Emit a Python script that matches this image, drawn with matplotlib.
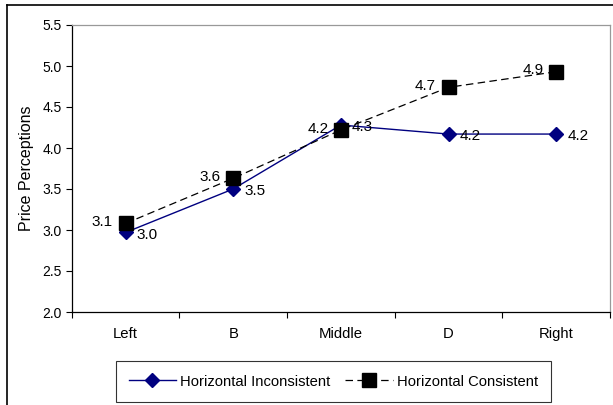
import numpy as np
import matplotlib
matplotlib.use('Agg')
import matplotlib.pyplot as plt
from matplotlib.lines import Line2D

plt.rcParams['font.family'] = ['Liberation Sans', 'DejaVu Sans']

# ── Data ──────────────────────────────────────────────────────────────────────
categories = ['Left', 'B', 'Middle', 'D', 'Right']
inconsistent = [2.97, 3.50, 4.28, 4.17, 4.17]
consistent = [3.08, 3.63, 4.22, 4.74, 4.93]
yticks = [2.0, 2.5, 3.0, 3.5, 4.0, 4.5, 5.0, 5.5]

col_inc = '#000080'
col_con = '#000000'

W, H = 613, 405
fig = plt.figure(figsize=(W / 100, H / 100), dpi=100, facecolor='white')
ax = fig.add_axes([71.7 / W, 1 - 312 / H, (610 - 71.7) / W, (312 - 25) / H])

x = np.arange(len(categories))
ax.plot(x, inconsistent, color=col_inc, lw=1.0, marker='D', ms=7.5,
        mfc=col_inc, mec=col_inc, zorder=3, label='Horizontal Inconsistent')
ax.plot(x, consistent, color=col_con, lw=0.9, ls=(0, (6, 3.5)), marker='s',
        ms=10, mfc=col_con, mec=col_con, zorder=4, label='Horizontal Consistent')

# value labels: inconsistent to the right, consistent to the left
for xi, v in zip(x, inconsistent):
    ax.annotate(f'{v:.1f}', (xi, v), xytext=(8, -1.5), textcoords='offset points',
                ha='left', va='center', fontsize=11, zorder=5)
for xi, v in zip(x, consistent):
    ax.annotate(f'{v:.1f}', (xi, v), xytext=(-9, 1), textcoords='offset points',
                ha='right', va='center', fontsize=11, zorder=5)

ax.set_xlim(-0.5, len(categories) - 0.5)
ax.set_ylim(2.0, 5.5)
ax.set_yticks(yticks)
ax.set_yticklabels([f'{v:.1f}' for v in yticks], fontsize=10)
ax.set_xticks(np.arange(len(categories) + 1) - 0.5)
ax.set_xticklabels([])
ax.set_xticks(x, minor=True)
ax.set_xticklabels(categories, minor=True, fontsize=10.7)
ax.tick_params(axis='x', which='minor', length=0, pad=11)
ax.tick_params(axis='both', which='major', direction='out', length=4,
               width=0.8, color='black', pad=3)
ax.set_ylabel('Price Perceptions', fontsize=11.5, labelpad=6)

for side in ['left', 'bottom']:
    ax.spines[side].set_color('black')
    ax.spines[side].set_linewidth(0.9)
for side in ['top', 'right']:
    ax.spines[side].set_color('#999999')
    ax.spines[side].set_linewidth(0.9)

# outer chart border (left and top edges)
fig.add_artist(Line2D([7 / W, 7 / W], [0, 1 - 4.7 / H], color='black', lw=1.2))
fig.add_artist(Line2D([7 / W, 1], [1 - 4.7 / H, 1 - 4.7 / H], color='black', lw=1.2))

leg = fig.legend(loc='center', bbox_to_anchor=((117 + 550) / 2 / W, 1 - 381.5 / H),
                 ncol=2, fontsize=10.6, frameon=True, fancybox=False,
                 handlelength=3.2, handletextpad=0.3, columnspacing=1.0,
                 borderpad=0.9)
leg.get_frame().set_edgecolor('black')
leg.get_frame().set_linewidth(0.8)

fig.savefig('out.png', dpi=100, facecolor='white')
